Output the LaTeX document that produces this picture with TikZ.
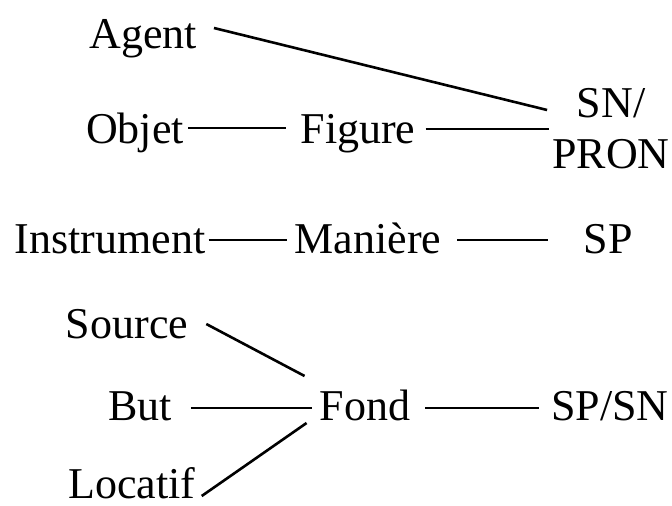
\documentclass[tikz,border=0pt]{standalone}
\usepackage{fontspec}
\setmainfont{Liberation Serif}
\usetikzlibrary{calc}
\begin{document}
\begin{tikzpicture}[x=1pt,y=-1pt,
  every node/.style={inner sep=0pt, font=\fontsize{44}{43}\selectfont},
  lbl/.style={anchor=base},
  lnk/.style={line width=2.6pt}]
\useasboundingbox[fill=white] (0,0) rectangle (672,506);
\node[lbl] (agent) at (143,48) {Agent};
\node[lbl] (objet) at (135,143) {Objet};
\node[lbl] (figure) at (358,143) {Figure};
\node[align=center, anchor=base] (snpron) at (611,168) {SN/\\[8pt]PRON};
\node[lbl] (instrument) at (110,253) {Instrument};
\node[lbl] (maniere) at (368,253) {Manière};
\node[lbl] (sp) at (608,253) {SP};
\node[lbl] (source) at (127,338) {Source};
\node[lbl] (but) at (140,420) {But};
\node[lbl] (fond) at (365,420) {Fond};
\node[lbl] (spsn) at (610,420) {SP/SN};
\node[lbl] (locatif) at (132,498) {Locatif};

\coordinate (fs) at ($(figure.base east)+(10,-14)$);
\coordinate (as) at ($(agent.base east)+(17,-20)$);
\coordinate (ae) at ($(fs -| snpron.west)+(-5,-19)$);
\draw[lnk] (as) -- (ae);
\draw[lnk] ($(objet.base east)+(4,-15)$) -- ($(figure.base west)+(-14,-15)$);
\draw[lnk] (fs) -- ($(fs -| snpron.west)+(-3,0)$);
\draw[lnk] ($(instrument.base east)+(3,-13)$) -- ($(maniere.base west)+(-8,-13)$);
\draw[lnk] ($(maniere.base east)+(16,-13)$) -- ($(sp.base west)+(-35,-13)$);
\draw[lnk] ($(source.base east)+(18,-14)$) -- ($(fond.base west)+(-15,-44)$);
\draw[lnk] ($(but.base east)+(19,-12)$) -- ($(fond.base west)+(-8,-12)$);
\draw[lnk] ($(locatif.base east)+(6,-2)$) -- ($(fond.base west)+(-13,3)$);
\draw[lnk] ($(fond.base east)+(15,-12)$) -- ($(spsn.base west)+(-12,-12)$);
\end{tikzpicture}
\end{document}
